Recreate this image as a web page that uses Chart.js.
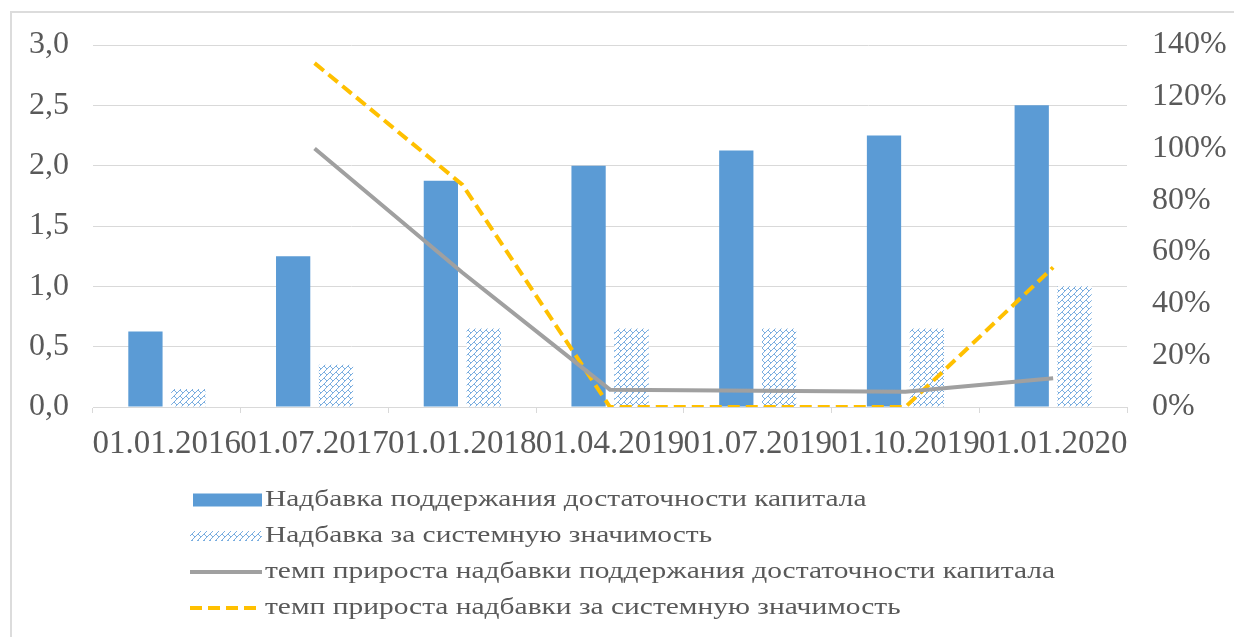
<!DOCTYPE html>
<html>
<head>
<meta charset="utf-8">
<script src="https://cdn.jsdelivr.net/npm/chart.js@4.4.0/dist/chart.umd.min.js"></script>
<style>
  html, body { margin: 0; padding: 0; background: #fff; overflow: hidden; }
  #frame { position: absolute; left: 10px; top: 11px; width: 1260px; height: 660px; border: 2px solid #dcdcdc; box-sizing: border-box; }
  #wrap { position: absolute; left: 0; top: 0; width: 1234px; height: 637px; }
</style>
</head>
<body>
<div id="frame"></div>
<div id="wrap"><canvas id="chart" width="1234" height="637"></canvas></div>
<script>
// categories (dates)
const dates = ["01.01.2016", "01.07.2017", "01.01.2018", "01.04.2019", "01.07.2019", "01.10.2019", "01.01.2020"];
// buffers, %
const capitalBuffer = [0.625, 1.25, 1.875, 2.0, 2.125, 2.25, 2.5];
const systemicBuffer = [0.15, 0.35, 0.65, 0.65, 0.65, 0.65, 1.0];
// growth rates, %
const capitalGrowth = [null, 100, 52, 6.7, 6.3, 5.9, 11.1];
const systemicGrowth = [null, 133, 86, 0, 0, 0, 54];

const seriesNames = [
  "Надбавка поддержания достаточности капитала",
  "Надбавка за системную значимость",
  "темп прироста надбавки поддержания достаточности капитала",
  "темп прироста надбавки за системную значимость"
];

const FONT = "'Liberation Serif', 'Times New Roman', serif";

//hatch pattern for the second bar series
function makeHatch() {
  const c = document.createElement("canvas");
  c.width = 6; c.height = 6;
  const g = c.getContext("2d");
  g.fillStyle = "#ffffff";
  g.fillRect(0, 0, 6, 6);
  g.strokeStyle = "#7aaee0";
  g.lineWidth = 1;
  g.beginPath();
  g.moveTo(0, 6); g.lineTo(6, 0);
  g.moveTo(0, 0); g.lineTo(3, 3);
  g.stroke();
  return g.createPattern(c, "repeat");
}
const hatch = makeHatch();

//legend drawn as a list under the chart, left aligned
const listLegend = {
  id: "listLegend",
  afterDraw(chart) {
    const ctx = chart.ctx;
    const x0 = 190, x1 = 262;
    const rows = [500, 536, 572, 608];
    chart.data.datasets.forEach((ds, i) => {
      const y = rows[i];
      ctx.save();
      if (ds.type === "line") {
        ctx.strokeStyle = ds.borderColor;
        ctx.lineWidth = ds.borderWidth;
        ctx.setLineDash(ds.borderDash || []);
        ctx.beginPath();
        ctx.moveTo(x0, y); ctx.lineTo(x1, y);
        ctx.stroke();
      } else {
        ctx.fillStyle = ds.backgroundColor;
        const h = i === 0 ? 13 : 10;
        ctx.fillRect(x0 + (i === 0 ? 3 : 0), y - h / 2, x1 - x0 - (i === 0 ? 3 : 0), h);
      }
      ctx.restore();
      ctx.save();
      ctx.fillStyle = "#595959";
      ctx.font = "23px " + FONT;
      ctx.textBaseline = "middle";
      ctx.translate(x1 + 3, y);
      ctx.scale(1.28, 1);
      ctx.fillText(ds.label, 0, 0);
      ctx.restore();
    });
  }
};

new Chart(document.getElementById("chart"), {
  data: {
    labels: dates,
    datasets: [
      { type: "bar", label: seriesNames[0], data: capitalBuffer, backgroundColor: "#5b9bd5", yAxisID: "y", order: 1,
        categoryPercentage: 0.58, barPercentage: 0.8 },
      { type: "bar", label: seriesNames[1], data: systemicBuffer, backgroundColor: hatch, yAxisID: "y", order: 1,
        categoryPercentage: 0.58, barPercentage: 0.8 },
      { type: "line", label: seriesNames[2], data: capitalGrowth, borderColor: "#a0a0a0", borderWidth: 4,
        pointRadius: 0, yAxisID: "y2", order: 0 },
      { type: "line", label: seriesNames[3], data: systemicGrowth, borderColor: "#ffc000", borderWidth: 4,
        borderDash: [12, 6], pointRadius: 0, yAxisID: "y2", order: 0 }
    ]
  },
  options: {
    responsive: false,
    animation: false,
    layout: { padding: { left: 0, right: 0, top: 45, bottom: 170 } },
    plugins: { legend: { display: false }, tooltip: { enabled: false } },
    scales: {
      x: {
        afterFit: (s) => { s.height = 60; },
        grid: { drawOnChartArea: false, drawTicks: true, tickLength: 6, color: "#d9d9d9", offset: true },
        border: { color: "#d9d9d9", width: 1 },
        ticks: { autoSkip: false, maxRotation: 0, minRotation: 0, padding: 12, color: "#595959",
          font: { family: FONT, size: 33 } }
      },
      y: {
        position: "left",
        min: 0, max: 3,
        afterFit: (s) => { s.width = 93; },
        grid: { color: "#d9d9d9", drawTicks: false },
        border: { display: false },
        ticks: { stepSize: 0.5, padding: 24, color: "#595959", font: { family: FONT, size: 32 },
          callback: (v) => v.toFixed(1).replace(".", ",") }
      },
      y2: {
        position: "right",
        min: 0, max: 140,
        afterFit: (s) => { s.width = 107; },
        grid: { display: false, drawTicks: false },
        border: { display: false },
        ticks: { stepSize: 20, padding: 25, color: "#595959", font: { family: FONT, size: 32 },
          callback: (v) => v + "%" }
      }
    }
  },
  plugins: [listLegend]
});
</script>
</body>
</html>
